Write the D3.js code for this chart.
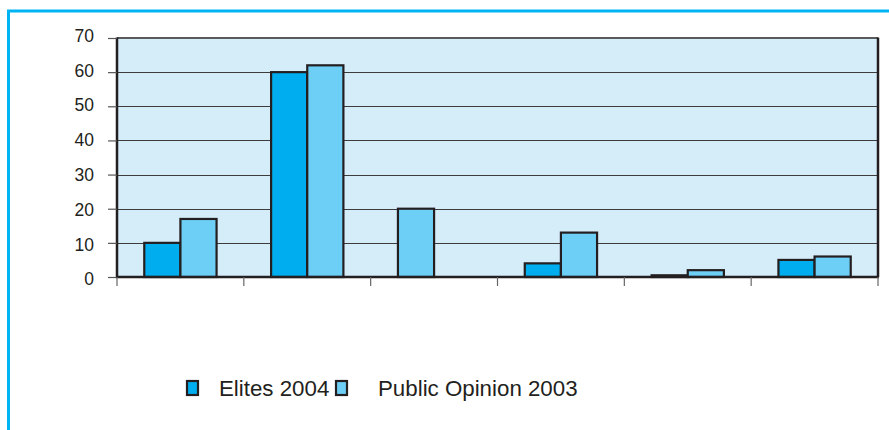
<!DOCTYPE html>
<html>
<head>
<meta charset="utf-8">
<script src="https://cdn.jsdelivr.net/npm/d3@7"></script>
<style>
  html, body { margin: 0; padding: 0; background: #ffffff; }
  svg { display: block; font-family: "Liberation Sans", Arial, sans-serif; }
</style>
</head>
<body>
<svg id="chart" width="889" height="430"></svg>
<script>
// ---- data ----
const categories = ["Group 1", "Group 2", "Group 3", "Group 4", "Group 5", "Group 6"];
const seriesNames = ["Elites 2004", "Public Opinion 2003"];
// null = no value reported for that group (remaining bar moves to the first slot)
const elites2004 = [10, 60, null, 4, 0.5, 5];
const publicOpinion2003 = [17, 62, 20, 13, 2, 6];
const yTicks = [0, 10, 20, 30, 40, 50, 60, 70];
const seriesColors = ["#00aeef", "#6dcff6"];

const svg = d3.select("#chart");

// outer frame (cyan)
svg.append("path")
  .attr("d", "M8.5,432 L8.5,11 L895,11")
  .attr("fill", "none")
  .attr("stroke", "#00b4f4")
  .attr("stroke-width", 3);

const plot = { left: 117, right: 878, top: 38, bottom: 277 };

const x = d3.scaleBand().domain(categories).range([plot.left, plot.right]).padding(0);
const y = d3.scaleLinear().domain([0, 70]).range([plot.bottom, plot.top]);

// background
svg.append("rect")
  .attr("x", plot.left).attr("y", plot.top)
  .attr("width", plot.right - plot.left).attr("height", plot.bottom - plot.top)
  .attr("fill", "#d5ecf9");

// grid
svg.append("g").selectAll("line")
  .data(yTicks.filter(d => d > 0 && d < 70))
  .join("line")
  .attr("x1", plot.left).attr("x2", plot.right)
  .attr("y1", d => Math.round(y(d)) + 0.5).attr("y2", d => Math.round(y(d)) + 0.5)
  .attr("stroke", "#3c3c3c").attr("stroke-width", 1.2);

// bars
const bw = x.bandwidth();
const barW = bw * 0.285;
const off = (bw - 2 * barW) / 2;
const g = svg.append("g");
categories.forEach((c, i) => {
  const present = [elites2004[i], publicOpinion2003[i]]
    .map((v, j) => ({ v, j }))
    .filter(d => d.v !== null);
  present.forEach((d, slot) => {
    g.append("rect")
      .attr("x", x(c) + off + slot * barW)
      .attr("y", y(d.v))
      .attr("width", barW)
      .attr("height", y(0) - y(d.v))
      .attr("fill", seriesColors[d.j])
      .attr("stroke", "#231f20")
      .attr("stroke-width", 2.2);
  });
});

// plot border
svg.append("line").attr("x1", plot.left).attr("x2", plot.right).attr("y1", plot.top).attr("y2", plot.top)
  .attr("stroke", "#5a5a5a").attr("stroke-width", 1.8);
svg.append("line").attr("x1", plot.left).attr("x2", plot.left).attr("y1", plot.top - 0.5).attr("y2", plot.bottom)
  .attr("stroke", "#231f20").attr("stroke-width", 2.5);
svg.append("line").attr("x1", plot.right).attr("x2", plot.right).attr("y1", plot.top - 0.5).attr("y2", plot.bottom)
  .attr("stroke", "#231f20").attr("stroke-width", 2.5);

// y axis
const yAxis = d3.axisLeft(y).tickValues(yTicks).tickSize(9).tickPadding(14).tickSizeOuter(0);
const ya = svg.append("g").attr("transform", `translate(${plot.left},0)`).call(yAxis);
ya.select(".domain").remove();
ya.selectAll(".tick line").attr("stroke", "#555").attr("stroke-width", 1.2);
ya.selectAll(".tick text").attr("font-size", 17.5).attr("fill", "#231f20")
  .attr("font-family", "'Liberation Sans', Arial, sans-serif")
  .attr("dy", d => (0.32 + (35 - d) * 0.0036) + "em");

// x axis
const xTickPos = categories.map(c => x(c)).concat([plot.right]);
const xa = svg.append("g");
xa.append("line").attr("x1", plot.left - 1).attr("x2", plot.right + 1)
  .attr("y1", plot.bottom).attr("y2", plot.bottom)
  .attr("stroke", "#231f20").attr("stroke-width", 2.5);
xa.selectAll("line.t").data(xTickPos).join("line").attr("class", "t")
  .attr("x1", d => d).attr("x2", d => d)
  .attr("y1", plot.bottom).attr("y2", plot.bottom + 9)
  .attr("stroke", "#666").attr("stroke-width", 1.2);

// legend
const legend = svg.append("g");
const legendItems = [
  { name: seriesNames[0], color: seriesColors[0], rx: 187, tx: 219 },
  { name: seriesNames[1], color: seriesColors[1], rx: 336, tx: 378 }
];
legendItems.forEach(it => {
  legend.append("rect").attr("x", it.rx).attr("y", 381).attr("width", 11).attr("height", 14)
    .attr("fill", it.color).attr("stroke", "#231f20").attr("stroke-width", 2.2);
  legend.append("text").attr("x", it.tx).attr("y", 396).attr("font-size", 22.3)
    .attr("fill", "#231f20").text(it.name);
});
</script>
</body>
</html>
